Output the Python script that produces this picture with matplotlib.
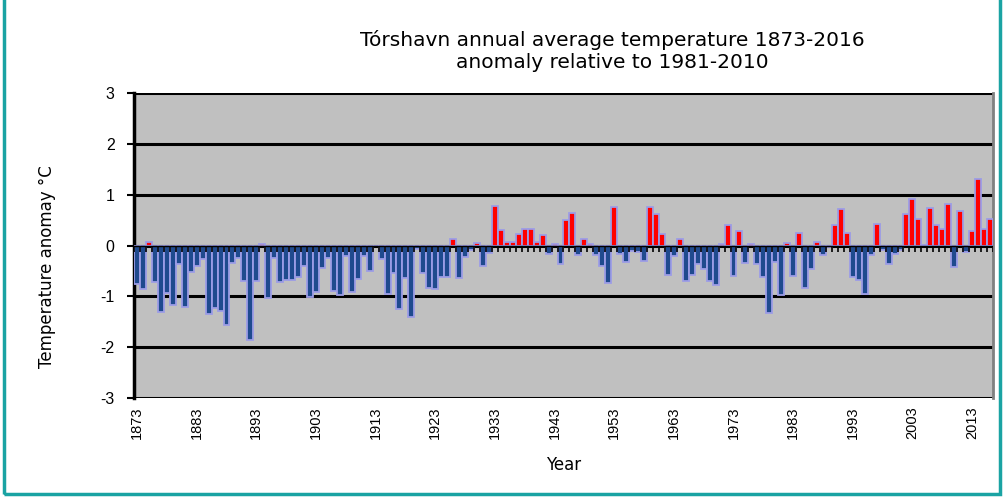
import numpy as np
import matplotlib
matplotlib.use('Agg')
import matplotlib.pyplot as plt
from matplotlib.patches import Rectangle

plt.rcParams['font.family'] = ['Liberation Sans', 'DejaVu Sans']

# annual anomaly vs 1981-2010
years = np.arange(1873, 2017)
anomaly = [
    -0.76, -0.86, 0.07, -0.72, -1.31, -0.93, -1.18, -0.37, -1.21, -0.52,   # 1873-1882
    -0.41, -0.27, -1.35, -1.23, -1.29, -1.56, -0.34, -0.24, -0.69, -1.85,  # 1883-1892
    -0.69, 0.02, -1.03, -0.25, -0.71, -0.67, -0.67, -0.61, -0.41, -1.02,   # 1893-1902
    -0.92, -0.44, -0.25, -0.90, -0.98, -0.20, -0.92, -0.65, -0.20, -0.50,  # 1903-1912
    -0.01, -0.27, -0.95, -0.54, -1.24, -0.64, -1.41, -0.07, -0.54, -0.84,  # 1913-1922
    -0.86, -0.61, -0.61, 0.13, -0.64, -0.23, -0.08, 0.04, -0.41, -0.15,    # 1923-1932
    0.78, 0.31, 0.07, 0.06, 0.22, 0.33, 0.33, 0.07, 0.20, -0.17,           # 1933-1942
    0.02, -0.37, 0.51, 0.63, -0.19, 0.12, 0.03, -0.19, -0.41, -0.74,       # 1943-1952
    0.75, -0.16, -0.33, -0.10, -0.13, -0.31, 0.75, 0.61, 0.22, -0.59,      # 1953-1962
    -0.21, 0.12, -0.69, -0.59, -0.37, -0.47, -0.69, -0.78, 0.03, 0.41,     # 1963-1972
    -0.60, 0.29, -0.35, 0.02, -0.37, -0.62, -1.33, -0.33, -0.98, 0.04,     # 1973-1982
    -0.60, 0.25, -0.84, -0.46, 0.06, -0.19, -0.03, 0.41, 0.72, 0.24,       # 1983-1992
    -0.62, -0.67, -0.95, -0.19, 0.43, -0.08, -0.37, -0.17, -0.08, 0.62,    # 1993-2002
    0.92, 0.52, 0.01, 0.73, 0.41, 0.33, 0.82, -0.43, 0.68, -0.13,          # 2003-2012
    0.29, 1.31, 0.33, 0.52,                                                # 2013-2016
]
anomaly = np.array(anomaly)
label_years = years[::10]
y_ticks = [-3, -2, -1, 0, 1, 2, 3]

fig = plt.figure(figsize=(10.04, 5.0), dpi=100)
ax = fig.add_axes([0.1335, 0.204, 0.8555, 0.61])
ax.set_facecolor('#C0C0C0')

colors = np.where(anomaly >= 0, '#FF0000', '#1F4A8E')
ax.bar(years, anomaly, width=1.0, color=colors, edgecolor='#9C9CE6',
       linewidth=1.3, zorder=3)

# black grid lines at each degree
for v in y_ticks:
    ax.axhline(v, color='black', lw=2.2, zorder=2)
ax.axhline(0, color='black', lw=1.0, zorder=4)

# category tick marks on the zero line
ax.vlines(np.append(years - 0.5, years[-1] + 0.5), -0.13, 0, color='black',
          lw=1.2, zorder=4)

ax.set_xlim(years[0] - 0.5, years[-1] + 0.5)
ax.set_ylim(-3, 3)
ax.set_yticks(y_ticks)
ax.set_yticklabels([str(v) for v in y_ticks], fontsize=11.5)
ax.set_xticks(label_years)
ax.set_xticklabels([str(y) for y in label_years], rotation=90, fontsize=10.5)
ax.tick_params(axis='x', length=0, pad=6)
ax.tick_params(axis='y', length=5, width=1.5, direction='out', pad=9)

for s in ['top', 'bottom']:
    ax.spines[s].set_visible(False)
ax.spines['left'].set_linewidth(2.5)
ax.spines['right'].set_color('#808080')
ax.spines['right'].set_linewidth(2)

ax.set_xlabel('Year', fontsize=12, labelpad=12, family='DejaVu Sans')
ax.set_ylabel('Temperature anomay \u00b0C', fontsize=12, family='DejaVu Sans')
ax.yaxis.set_label_coords(-0.091, 0.43)

fig.text(0.61, 0.898, 'T\u00f3rshavn annual average temperature 1873-2016\nanomaly relative to 1981-2010',
         ha='center', va='center', fontsize=14.5, linespacing=1.2,
         family='DejaVu Sans')

# teal frame round the picture
fig.patches.append(Rectangle((0.004, 0.012), 0.992, 1.1, transform=fig.transFigure,
                             fill=False, edgecolor='#1AA3A3', lw=2.5))

plt.savefig('out.png', dpi=100)
